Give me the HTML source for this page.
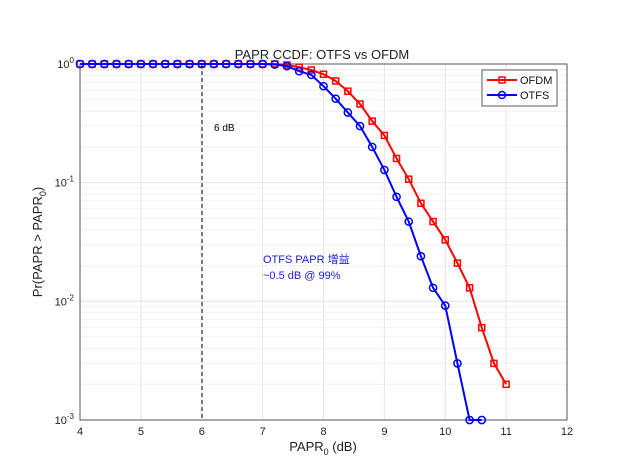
<!DOCTYPE html>
<html><head><meta charset="utf-8"><style>
body{margin:0;background:#fff;}
svg{display:block;font-family:"Liberation Sans","Noto Sans CJK SC",sans-serif;}
</style></head><body>
<svg id="chart" width="625" height="469">
<rect x="0" y="0" width="625" height="469" fill="#fff"/>
<g id="grid"></g>
<g id="axes"></g>
<g id="series"></g>
<text x="322" y="59" text-anchor="middle" font-size="13" fill="#222">PAPR CCDF: OTFS vs OFDM</text>
<text x="323" y="451" text-anchor="middle" font-size="13" fill="#222">PAPR<tspan font-size="9" dy="4">0</tspan><tspan dy="-4"> (dB)</tspan></text>
<text transform="translate(42,242) rotate(-90)" text-anchor="middle" font-size="13" fill="#222">Pr(PAPR &gt; PAPR<tspan font-size="9" dy="4">0</tspan><tspan dy="-4">)</tspan></text>
<line x1="202" y1="64" x2="202" y2="420" stroke="#000" stroke-dasharray="4,3" stroke-width="1"/>
<text x="214" y="131" font-size="10" fill="#000">6 dB</text>
<text x="263" y="263" font-size="11" fill="#1a1adc">OTFS PAPR 增益</text>
<text x="263" y="279" font-size="11" fill="#1a1adc">~0.5 dB @ 99%</text>
<g>
<rect x="482" y="70" width="75" height="36" fill="#fff" stroke="#333" stroke-width="0.8"/>
<line x1="487" y1="80" x2="517" y2="80" stroke="#f00" stroke-width="2"/>
<rect x="499" y="77" width="6" height="6" fill="none" stroke="#f00" stroke-width="1.5"/>
<text x="520" y="84" font-size="11" fill="#111">OFDM</text>
<line x1="487" y1="95" x2="517" y2="95" stroke="#00f" stroke-width="2"/>
<circle cx="502" cy="95" r="3.5" fill="none" stroke="#00f" stroke-width="1.5"/>
<text x="520" y="99" font-size="11" fill="#111">OTFS</text>
</g>
</svg>
<script>
const xs = [4,4.2,4.4,4.6,4.8,5,5.2,5.4,5.6,5.8,6,6.2,6.4,6.6,6.8,7,7.2,7.4,7.6,7.8,8,8.2,8.4,8.6,8.8,9,9.2,9.4,9.6,9.8,10,10.2,10.4,10.6,10.8,11];
const ofdm = [1,1,1,1,1,1,1,1,1,1,1,1,1,1,1,1,1,0.98,0.94,0.89,0.82,0.72,0.59,0.46,0.33,0.25,0.16,0.107,0.067,0.047,0.033,0.021,0.013,0.006,0.003,0.002];
const otfs = [1,1,1,1,1,1,1,1,1,1,1,1,1,1,1,1,0.99,0.96,0.87,0.81,0.65,0.51,0.39,0.30,0.20,0.128,0.076,0.047,0.024,0.013,0.0092,0.003,0.001,0.001];
const xTicks = [4,5,6,7,8,9,10,11,12];
const yDecades = [0,-1,-2,-3];
const NS="http://www.w3.org/2000/svg";
const L=80,R=567,T=64,B=420;
function sx(v){return L+(v-4)/8*(R-L);}
function sy(v){return T+(-Math.log10(v))/3*(B-T);}
function mk(tag,attrs,parent){const e=document.createElementNS(NS,tag);for(const k in attrs)e.setAttribute(k,attrs[k]);parent.appendChild(e);return e;}
const grid=document.getElementById('grid'),axes=document.getElementById('axes'),ser=document.getElementById('series');
xTicks.forEach(t=>{
 const g=mk('line',{x1:sx(t),x2:sx(t),y1:T,y2:B,stroke:'#e4e4e4','stroke-width':1},grid);
 
 
 const tx=mk('text',{x:sx(t),y:B+15,'text-anchor':'middle','font-size':11,fill:'#222'},axes);
 tx.textContent=t;
 
 
});
for(let d=0;d>-3;d--){for(let m=2;m<=9;m++){const v=Math.pow(10,d-1)*m;
 const g=mk('line',{x1:L,x2:R,y1:sy(v),y2:sy(v),stroke:'#f0f0f0','stroke-width':1},grid);
 
 }}
yDecades.forEach(d=>{
 const y=sy(Math.pow(10,d));
 const g=mk('line',{x1:L,x2:R,y1:y,y2:y,stroke:'#e4e4e4','stroke-width':1},grid);
 
 
 const tx=mk('text',{x:L-6,y:y+4,'text-anchor':'end','font-size':11,fill:'#222'},axes);
 tx.innerHTML='10<tspan font-size="8" dy="-5">'+d+'</tspan>';
 
 
});
const box=mk('rect',{x:L,y:T,width:R-L,height:B-T,fill:'none',stroke:'#333','stroke-width':0.8},axes);


function series(vals,color,shape,name){
 const pts=vals.map((v,i)=>sx(xs[i])+','+sy(v)).join(' ');
 const pl=mk('polyline',{points:pts,fill:'none',stroke:color,'stroke-width':2},ser);
 
 
 vals.forEach((v,i)=>{
  let m;
  if(shape==='sq')m=mk('rect',{x:sx(xs[i])-3,y:sy(v)-3,width:6,height:6,fill:'none',stroke:color,'stroke-width':1.5},ser);
  else m=mk('circle',{cx:sx(xs[i]),cy:sy(v),r:3.6,fill:'none',stroke:color,'stroke-width':1.5},ser);
  
  
 });
}
series(ofdm,'#f00','sq','ofdm');
series(otfs,'#00f','ci','otfs');
</script>
</body></html>
